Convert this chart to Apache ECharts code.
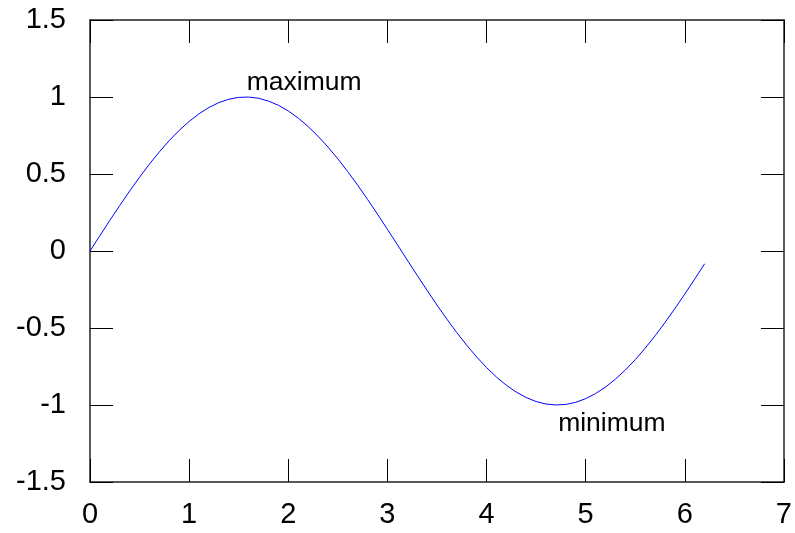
<!DOCTYPE html>
<html>
<head>
<meta charset="utf-8">
<script src="https://cdn.jsdelivr.net/npm/echarts@6/dist/echarts.min.js"></script>
<style>
  html, body { margin: 0; padding: 0; background: #fff; }
  #chart { width: 795px; height: 533px; }
</style>
</head>
<body>
<div id="chart"></div>
<script>
// curve samples
const xs = [0, 0.1, 0.2, 0.3, 0.4, 0.5, 0.6, 0.7, 0.8, 0.9,
  1.0, 1.1, 1.2, 1.3, 1.4, 1.5, 1.6, 1.7, 1.8, 1.9,
  2.0, 2.1, 2.2, 2.3, 2.4, 2.5, 2.6, 2.7, 2.8, 2.9,
  3.0, 3.1, 3.2, 3.3, 3.4, 3.5, 3.6, 3.7, 3.8, 3.9,
  4.0, 4.1, 4.2, 4.3, 4.4, 4.5, 4.6, 4.7, 4.8, 4.9,
  5.0, 5.1, 5.2, 5.3, 5.4, 5.5, 5.6, 5.7, 5.8, 5.9,
  6.0, 6.1, 6.2];
const ys = [0, 0.0998, 0.1987, 0.2955, 0.3894, 0.4794, 0.5646, 0.6442, 0.7174, 0.7833,
  0.8415, 0.8912, 0.9320, 0.9636, 0.9854, 0.9975, 0.9996, 0.9917, 0.9738, 0.9463,
  0.9093, 0.8632, 0.8085, 0.7457, 0.6755, 0.5985, 0.5155, 0.4274, 0.3350, 0.2392,
  0.1411, 0.0416, -0.0584, -0.1577, -0.2555, -0.3508, -0.4425, -0.5298, -0.6119, -0.6878,
  -0.7568, -0.8183, -0.8716, -0.9162, -0.9516, -0.9775, -0.9937, -0.9999, -0.9962, -0.9825,
  -0.9589, -0.9258, -0.8835, -0.8323, -0.7728, -0.7055, -0.6313, -0.5507, -0.4646, -0.3739,
  -0.2794, -0.1822, -0.0831];

// annotations
const noteNames = ['maximum', 'minimum'];
const noteX = [1.5708, 4.7124];
const noteY = [1, -1];

const font = 'Liberation Sans, Arial, sans-serif';
const chart = echarts.init(document.getElementById('chart'));

const tickStyle = { inside: true, length: 23, lineStyle: { color: '#000', width: 1 } };
const lineStyle = { lineStyle: { color: '#222', width: 1.5 } };

const notes = noteNames.map((n, i) => ({
  name: n,
  coord: [noteX[i], noteY[i]],
  label: i === 0
    ? { position: [1, -1], verticalAlign: 'bottom', align: 'left' }
    : { position: [1, 5], verticalAlign: 'top', align: 'left' }
}));

chart.setOption({
  animation: false,
  grid: { left: 90, top: 20, right: 7, bottom: 51, containLabel: false },
  xAxis: [
    {
      type: 'value', min: 0, max: 7, interval: 1, position: 'bottom',
      axisLine: Object.assign({ onZero: false }, lineStyle),
      axisTick: tickStyle,
      splitLine: { show: false },
      axisLabel: { color: '#000', fontSize: 29, fontFamily: font, margin: 18 }
    },
    {
      type: 'value', min: 0, max: 7, interval: 1, position: 'top',
      axisLine: Object.assign({ onZero: false }, lineStyle),
      axisTick: tickStyle,
      splitLine: { show: false },
      axisLabel: { show: false }
    }
  ],
  yAxis: [
    {
      type: 'value', min: -1.5, max: 1.5, interval: 0.5, position: 'left',
      axisLine: Object.assign({ onZero: false, show: true }, lineStyle),
      axisTick: Object.assign({ show: true }, tickStyle),
      splitLine: { show: false },
      axisLabel: { color: '#000', fontSize: 29, fontFamily: font, margin: 24 }
    },
    {
      type: 'value', min: -1.5, max: 1.5, interval: 0.5, position: 'right',
      axisLine: Object.assign({ onZero: false, show: true }, lineStyle),
      axisTick: Object.assign({ show: true }, tickStyle),
      splitLine: { show: false },
      axisLabel: { show: false }
    }
  ],
  series: [{
    type: 'line',
    data: xs.map((x, i) => [x, ys[i]]),
    showSymbol: false,
    lineStyle: { color: '#0000ff', width: 1 },
    markPoint: {
      symbol: 'circle',
      symbolSize: 0,
      label: { show: true, formatter: '{b}', color: '#000', fontSize: 26.5, fontFamily: font },
      data: notes
    }
  }]
});
</script>
</body>
</html>
